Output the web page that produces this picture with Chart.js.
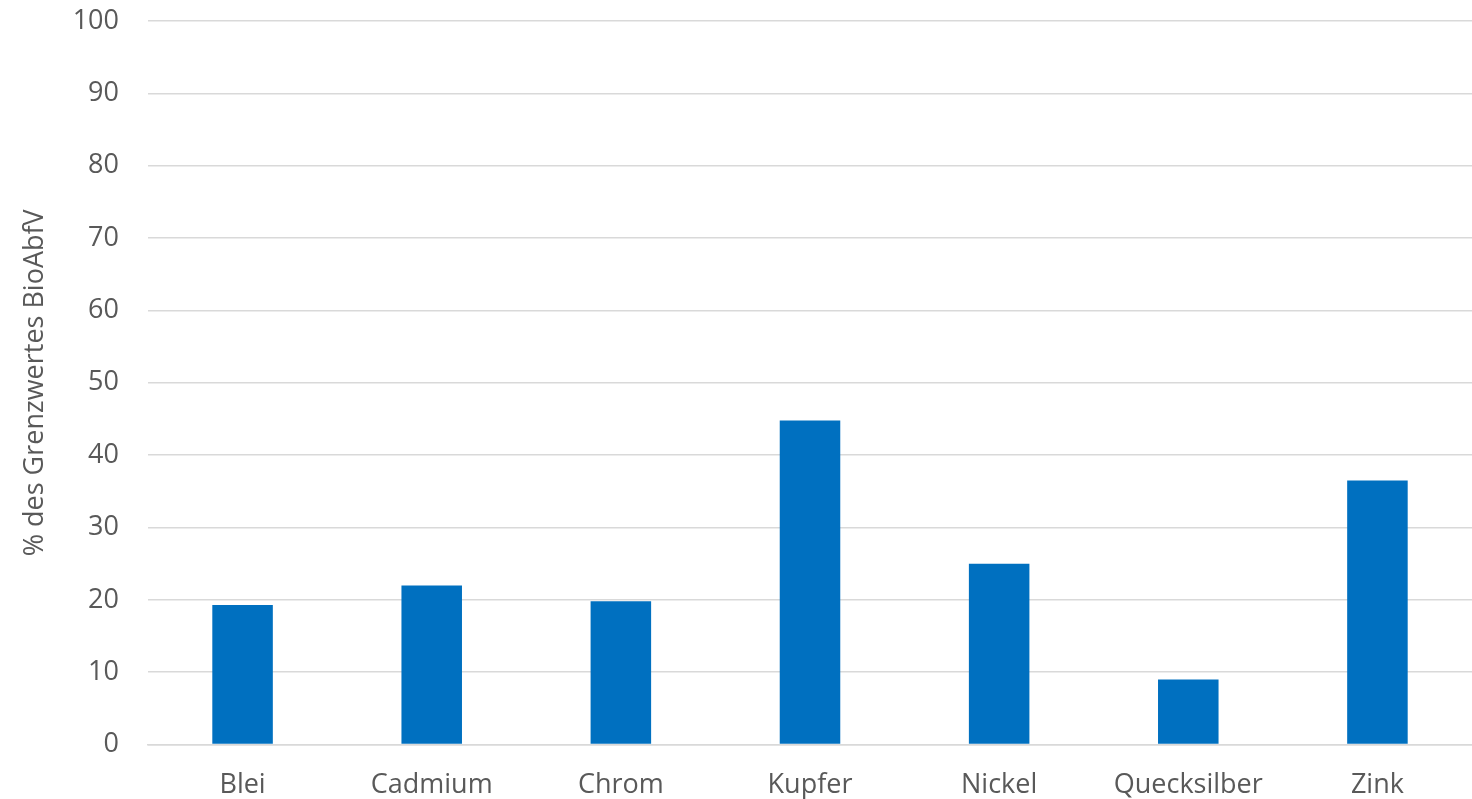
<!DOCTYPE html>
<html>
<head>
<meta charset="utf-8">
<script src="https://cdn.jsdelivr.net/npm/chart.js@4"></script>
<style>
  html, body { margin: 0; padding: 0; background: #fff; }
  .chart-container { position: relative; width: 1472px; height: 799px; }
</style>
</head>
<body>
<div class="chart-container"><canvas id="metalChart"></canvas></div>
<script>
const categories = ["Blei", "Cadmium", "Chrom", "Kupfer", "Nickel", "Quecksilber", "Zink"];
const percentOfLimit = [19.3, 22.0, 19.8, 44.8, 25.0, 9.0, 36.5];
const yTicks = [0, 10, 20, 30, 40, 50, 60, 70, 80, 90, 100];

document.addEventListener("DOMContentLoaded", function () {
  const ctx = document.getElementById("metalChart").getContext("2d");
  new Chart(ctx, {
    type: "bar",
    data: {
      labels: categories,
      datasets: [
        {
          label: "% des Grenzwertes BioAbfV",
          data: percentOfLimit,
          backgroundColor: "#0070C0",
          borderWidth: 0,
          barPercentage: 0.64,
          categoryPercentage: 0.5,
        },
      ],
    },
    options: {
      responsive: true,
      maintainAspectRatio: false,
      animation: false,
      layout: { padding: { top: 0, right: 0, bottom: -28, left: 19 } },
      plugins: {
        legend: { display: false },
        tooltip: { enabled: false },
      },
      scales: {
        y: {
          min: 0,
          max: 100,
          afterBuildTicks: function (axis) {
            axis.ticks = yTicks.map(function (v) { return { value: v }; });
          },
          afterFit: function (axis) {
            // keep the tick padding from pushing the plot down
            axis.paddingTop = 21;
            axis.width = 129;
          },
          grid: { color: "#d9d9d9", lineWidth: 1.5, drawTicks: false },
          border: { display: false },
          ticks: {
            color: "#595959",
            font: { family: "Open Sans", size: 27 },
            padding: 29,
          },
          title: {
            display: true,
            text: "% des Grenzwertes BioAbfV",
            color: "#595959",
            font: { family: "Open Sans", size: 27 },
            padding: { top: 0, bottom: 12 },
          },
        },
        x: {
          grid: { display: false, drawTicks: false },
          border: { display: true, color: "#d9d9d9", width: 1.5 },
          ticks: {
            color: "#595959",
            font: { family: "Open Sans", size: 27 },
            padding: 25,
          },
        },
      },
    },
  });
});
</script>
</body>
</html>
